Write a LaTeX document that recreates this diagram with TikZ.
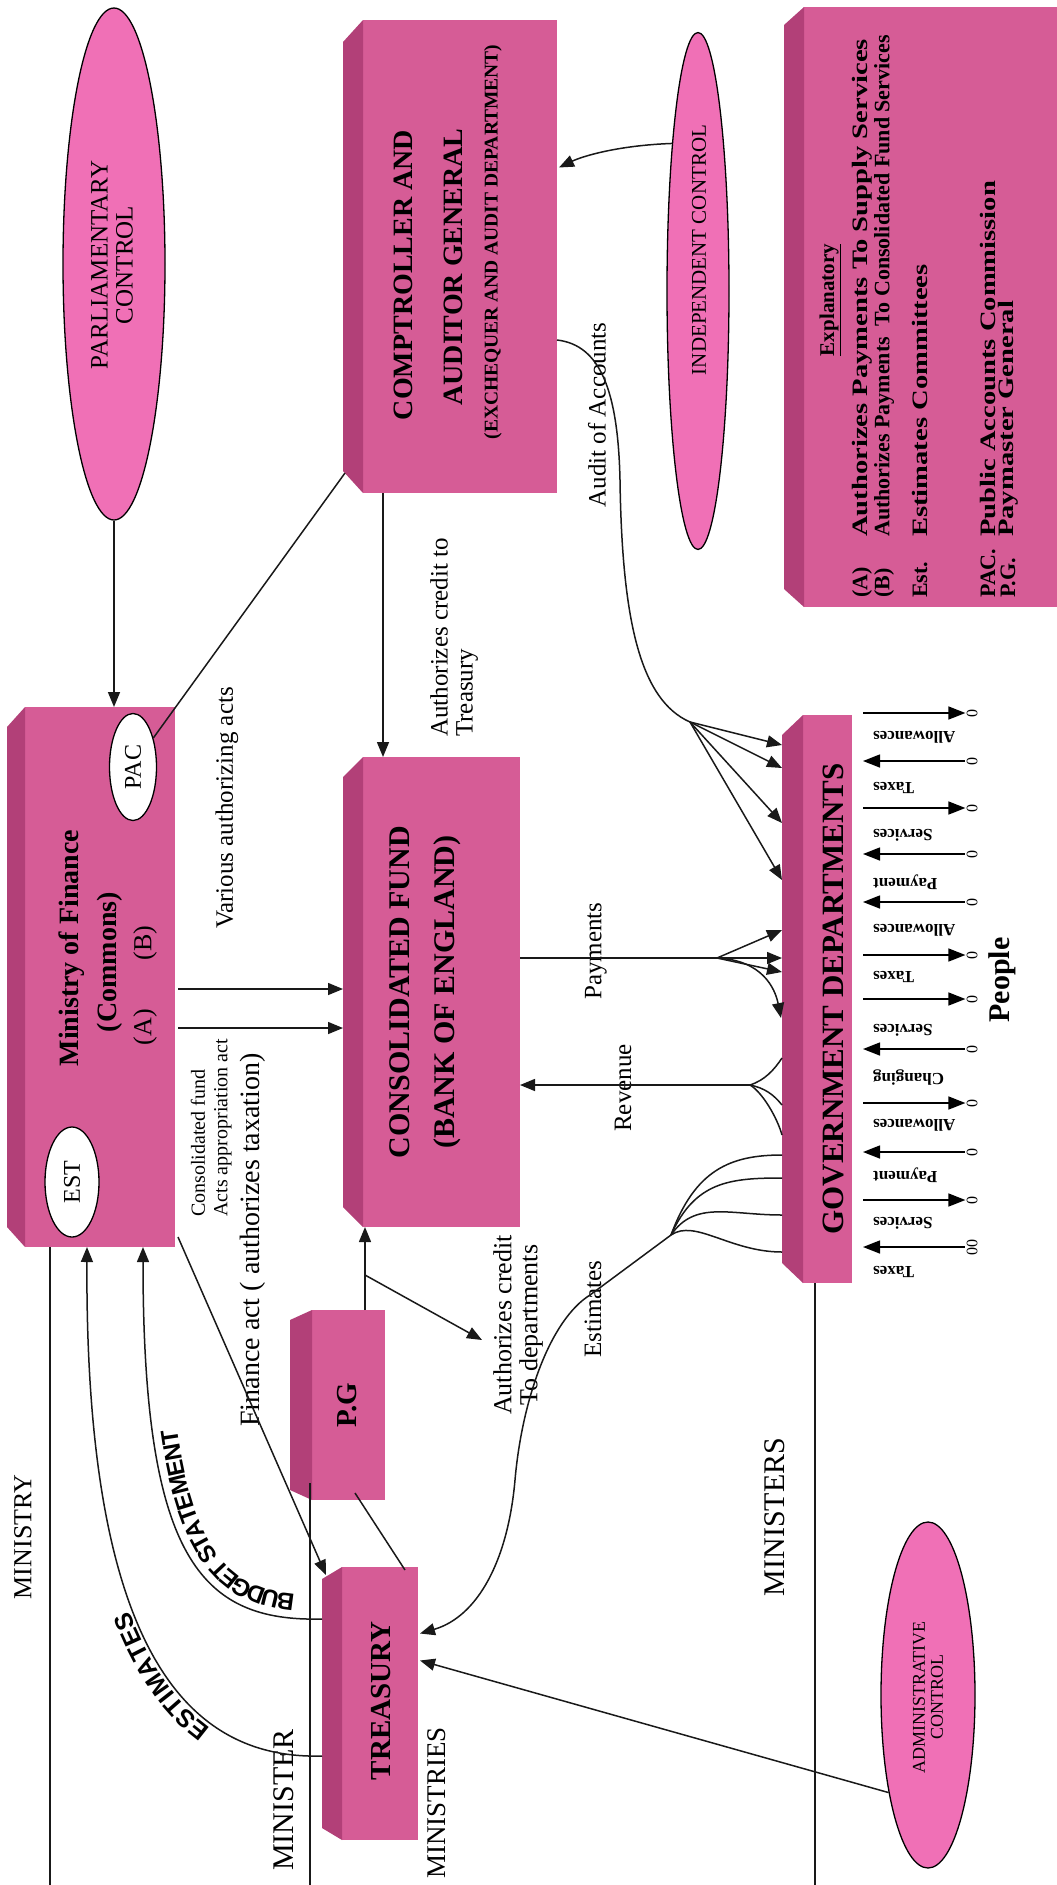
\documentclass[tikz,border=0pt]{standalone}
\usepackage{fontspec}
\setmainfont{Liberation Serif}
\newfontfamily\heavysans{Liberation Sans}
\usetikzlibrary{shapes.geometric,arrows.meta,calc,decorations.text}
\definecolor{boxpink}{RGB}{214,92,150}
\definecolor{sidepink}{RGB}{178,64,120}
\definecolor{ellpink}{RGB}{240,112,182}
\newcommand\fsz[1]{\fontsize{#1}{#1}\selectfont}
% left bevel of a 3-D block: node, depth, inset
\newcommand\sideface[3]{%
  \fill[sidepink] (#1.north west) -- ($(#1.north west)+(-#2,#3)$)
     -- ($(#1.south west)+(-#2,-#3)$) -- (#1.south west) -- cycle;}
% stretch for the tightly set legend lines
\newcommand\wide[2]{\scalebox{#1}[1]{#2}}
\tikzset{
  box/.style={rectangle, fill=boxpink, draw=none, inner sep=0pt, outer sep=0pt},
  oval/.style={ellipse, draw=black, line width=1.3pt, fill=ellpink, inner sep=0pt},
  woval/.style={ellipse, draw=black, line width=1.3pt, fill=white, inner sep=0pt},
  conn/.style={line width=1.5pt, draw=black!90},
  arr/.style={conn, -{Triangle[length=15pt,width=12pt]}},
  tor/.style={-{Triangle[length=17pt,width=13pt]}},
  tol/.style={{Triangle[length=17pt,width=13pt]}-},
  vtxt/.style={rotate=90, inner sep=0pt},
  ptxt/.style={rotate=180, anchor=east, inner sep=0pt, font=\bfseries\fsz{17}},
  zero/.style={rotate=90, inner sep=1pt, font=\fsz{16}},
  lbl/.style={vtxt, font=\fsz{25}},
}
\begin{document}
\begin{tikzpicture}[x=1pt,y=-1pt,line join=round]
\useasboundingbox (0,0) rectangle (1057,1885);
\clip (0,0) rectangle (1057,1885);

% ---- blocks
\node[box, minimum width=194pt, minimum height=473pt] (comp)  at (460,256.5) {};
\node[box, minimum width=150pt, minimum height=540pt] (mof)   at (100,977) {};
\node[box, minimum width=157pt, minimum height=470pt] (cf)    at (441.5,992) {};
\node[box, minimum width=73pt,  minimum height=190pt] (pg)    at (348.5,1405) {};
\node[box, minimum width=76pt,  minimum height=273pt] (treas) at (380,1703.5) {};
\node[box, minimum width=49pt,  minimum height=568pt] (gd)    at (827.5,999) {};
\node[box, minimum width=253pt, minimum height=600pt] (expl)  at (930.5,307) {};
\sideface{comp}{20}{22}
\sideface{mof}{18}{20}
\sideface{cf}{20}{20}
\sideface{pg}{22}{10}
\sideface{treas}{20}{12}
\sideface{gd}{21}{20}
\sideface{expl}{20}{18}

% ---- ovals
\node[oval, minimum width=102pt, minimum height=512pt] (parl)  at (114,264) {};
\node[oval, minimum width=62pt,  minimum height=517pt] (indep) at (698,291) {};
\node[oval, minimum width=94pt,  minimum height=346pt] (admin) at (928,1695) {};
\node[woval, minimum width=54pt, minimum height=110pt] (est)   at (72,1182) {};
\node[woval, minimum width=47pt, minimum height=107pt] (pac)   at (133,767) {};

% ---- texts in blocks and ovals
\node[vtxt, font=\fsz{25}, align=center] (parlt) at (112,265) {PARLIAMENTARY\\CONTROL};
\node[vtxt, font=\fsz{21}] (indept) at (699,250) {INDEPENDENT CONTROL};
\node[vtxt, font=\fsz{18}, align=center] (admint) at (928,1697) {ADMINISTRATIVE\\CONTROL};
\node[vtxt, font=\fsz{24}] (estt) at (est) {EST};
\node[vtxt, font=\fsz{24}] (pact) at (pac) {PAC};

\node[vtxt, font=\bfseries\fsz{28}] (ct1) at (403,275) {COMPTROLLER AND};
\node[vtxt, font=\bfseries\fsz{28}] (ct2) at (453,267) {AUDITOR GENERAL};
\node[vtxt, font=\bfseries\fsz{19.5}] (ct3) at (493,242) {(EXCHEQUER AND AUDIT DEPARTMENT)};

\node[vtxt, font=\bfseries\fsz{28}] (mt1) at (72,948) {Ministry of Finance};
\node[vtxt, font=\bfseries\fsz{28}] (mt2) at (110,962) {(Commons)};
\node[vtxt, font=\fsz{26}] (mt3) at (145,1027) {(A)};
\node[vtxt, font=\fsz{26}] (mt4) at (145,943) {(B)};

\node[vtxt, font=\bfseries\fsz{30}] (cft1) at (400,992) {CONSOLIDATED FUND};
\node[vtxt, font=\bfseries\fsz{30}] (cft2) at (447,992) {(BANK OF ENGLAND)};
\node[vtxt, font=\bfseries\fsz{29}] (pgt) at (347,1405) {P.G};
\node[vtxt, font=\bfseries\fsz{29}] (trt) at (381,1701) {TREASURY};
\node[vtxt, font=\bfseries\fsz{31}] (gdt) at (833,999) {GOVERNMENT DEPARTMENTS};
\node[vtxt, font=\bfseries\fsz{30}] (ppl) at (1002,980) {People};

% ---- explanatory panel
\node[vtxt, font=\bfseries\fsz{21}] (exh) at (830,300) {\underline{Explanatory}};
\foreach \xx/\key/\st/\desc [count=\i] in {
   862/(A)/1.3/Authorizes Payments To Supply Services,
   884/(B)/1.0/Authorizes Payments\ \ To Consolidated Fund Services,
   920/Est./1.3/Estimates Committees,
   988/PAC./1.3/Public Accounts Commission,
   1008/P.G./1.3/Paymaster General}{
  \node[vtxt, anchor=west, font=\bfseries\fsz{22}] (exk\i) at (\xx,598) {\key};
  \node[vtxt, anchor=west, font=\bfseries\fsz{22}] (exd\i) at (\xx,537) {\wide{\st}{\desc}};
}

% ---- free labels
\node[lbl] (lvar) at (227,808) {Various authorizing acts};
\node[vtxt, font=\fsz{25}, anchor=north west, align=left] (lcred) at (430,737) {Authorizes credit to\\Treasury};
\node[lbl] (laud) at (597,415) {Audit of Accounts};
\node[lbl] (lpay) at (596,951) {Payments};
\node[lbl] (lrev) at (623,1088) {Revenue};
\node[lbl] (lests) at (593,1309) {Estimates};
\node[vtxt, font=\fsz{26}, align=center] (lcdep) at (518,1325) {Authorizes credit\\To departments};
\node[vtxt, anchor=west, font=\fsz{20}] (lcons) at (198,1217) {Consolidated fund};
\node[vtxt, anchor=west, font=\fsz{20}] (lacts) at (223,1217) {Acts appropriation act};
\node[vtxt, font=\fsz{28}] (lfin) at (253,1240) {Finance act ( authorizes taxation)};
\node[vtxt, font=\fsz{26}] (lmy) at (23,1537) {MINISTRY};
\node[vtxt, font=\fsz{30}] (lmr) at (284,1800) {MINISTER};
\node[vtxt, font=\fsz{27}] (lmies) at (437,1803) {MINISTRIES};
\node[vtxt, font=\fsz{30}] (lmrs) at (775,1517) {MINISTERS};

% ---- separators
\coordinate (bottom) at (0,1885);
\coordinate (s1) at ($(mof.south west)+(25,0)$);
\coordinate (s2) at ($(pg.south west)+(-2,-17)$);
\coordinate (s3) at ($(gd.south west)+(12,0)$);
\draw[conn] (s1) -- (s1 |- bottom);
\draw[conn] (s2) -- (s2 |- bottom);
\draw[conn] (s3) -- (s3 |- bottom);

% ---- control connectors
\draw[arr] (parl.south) -- (parl.south |- mof.north);
\draw[conn] ($(comp.south west)+(-18,-20)$) -- (pac.55);
\draw[arr] ($(comp.south west)+(20,0)$) -- ($(cf.north west)+(20,0)$);
\draw[arr] (indep.100) .. controls ($(indep.100)+(-55,2)$) and ($(comp.east)+(25,-100)$) .. ($(comp.east)+(2,-89)$);

% ministry to consolidated fund, (A) and (B)
\draw[arr] ($(mof.east)+(3,12)$) -- ($(cf.west)+(-20,-3)$);
\draw[arr] ($(mof.east)+(3,51)$) -- ($(cf.west)+(-20,36)$);
% finance act
\draw[arr] ($(mof.south east)+(3,-10)$) -- ($(treas.north west)+(-16,8)$);

% budget statement and estimates, treasury to ministry
\coordinate (bs0) at ($(treas.west)+(-20,-84.5)$);
\coordinate (bs1) at ($(mof.south west)+(118,0)$);
\coordinate (es0) at ($(treas.west)+(-20,52.5)$);
\coordinate (es1) at ($(mof.south west)+(62,0)$);
\draw[arr] (bs0) .. controls +(-122,3) and +(0,310) .. (bs1);
\draw[arr] (es0) .. controls +(-142,4) and +(-2,390) .. (es1);
\path[decorate, decoration={text along path, raise=-24pt,
   text align={left indent=30pt},
   text={|\heavysans\bfseries\fsz{24}|BUDGET STATEMENT}}]
   (bs0) .. controls +(-122,3) and +(0,310) .. (bs1);
\path[decorate, decoration={text along path, raise=4pt,
   text align={left indent=115pt},
   text={|\heavysans\bfseries\fsz{25}|ESTIMATES}}]
   (es0) .. controls +(-142,4) and +(-2,390) .. (es1);

% paymaster general
\coordinate (pgtop) at ($(pg.north)+(16.5,0)$);
\coordinate (pgfork) at ($(pg.north)+(16.5,-35)$);
\coordinate (cdtip) at (482,1340);
\draw[arr] (pgtop) -- (pgtop |- cf.south);
\draw[arr] (pgfork) -- (cdtip);
\draw[conn] ($(pg.south east)+(-30,-7)$) -- ($(treas.north east)+(-13,3)$);

% audit of accounts
\coordinate (au0) at ($(comp.east)+(0,83.5)$);
\coordinate (aum) at (620,480);
\coordinate (auj) at (690,722);
\draw[conn] (au0) .. controls +(43,5) and +(-2,-90) .. (aum) .. controls +(2,140) and +(-50,-22) .. (auj);
\foreach \t in {745,768,823,880}
  \draw[arr] (auj) -- ($(gd.west)+(-21,\t-999)$);

% payments
\coordinate (payj) at ($(cf.east)+(197,-34)$);
\draw[conn] ($(cf.east)+(0,-34)$) -- (payj);
\foreach \t in {930,958,972}
  \draw[arr] (payj) -- ($(gd.west)+(-21,\t-999)$);
\draw[arr] (payj) .. controls +(45,2) and +(-6,-30) .. ($(gd.west)+(-22,19)$);

% revenue
\coordinate (revj) at ($(cf.east)+(230,93)$);
\draw[arr] (revj) -- ($(cf.east)+(0,93)$);
\draw[conn] (revj) .. controls +(15,-5) and +(-8,12) .. ($(gd.west)+(-21,59)$);
\draw[conn] (revj) .. controls +(15,3) and +(-8,-10) .. ($(gd.west)+(-21,106)$);
\draw[conn] (revj) .. controls +(12,7) and +(-5,-18) .. ($(gd.west)+(-21,136)$);

% estimates from departments
\coordinate (estj) at (671,1235);
\coordinate (es2) at (590,1295);
\coordinate (es3) at (515,1480);
\foreach \t in {1155,1178,1215,1252}
  \draw[conn] (estj) .. controls (695,{(1235+\t)/2-25}) and (730,\t) .. ($(gd.west)+(-21,\t-999)$);
\draw[arr] (estj) -- (es2) .. controls +(-40,25) and +(7,-80) .. (es3) .. controls +(-7,80) and +(58,-17) .. ($(treas.east)+(2,-70)$);

% administrative control
\draw[arr] (admin.248) -- ($(treas.east)+(2,-43)$);

% ---- flows to and from the people
\foreach \yy/\dd/\zz [count=\i] in {713/tor/0,761/tol/0,808/tor/0,854/tol/0,902/tol/0,955/tor/0,
    999/tor/0,1049/tol/0,1103/tor/0,1152/tol/0,1200/tor/0,1247/tol/00}{
  \node[zero] (z\i) at (972,\yy) {\zz};
  \coordinate (p\i) at (863,\yy);
  \draw[line width=1.5pt, \dd] (p\i) -- (z\i);
}
\foreach \yy/\ww [count=\i] in {737/Allowances,788/Taxes,835/Services,882/Payment,930/Allowances,
    977/Taxes,1030/Services,1078/Changing,1125/Allowances,1175/Payment,1223/Services,1272/Taxes}
  \node[ptxt] (pl\i) at (873,\yy) {\ww};
\end{tikzpicture}
\end{document}
